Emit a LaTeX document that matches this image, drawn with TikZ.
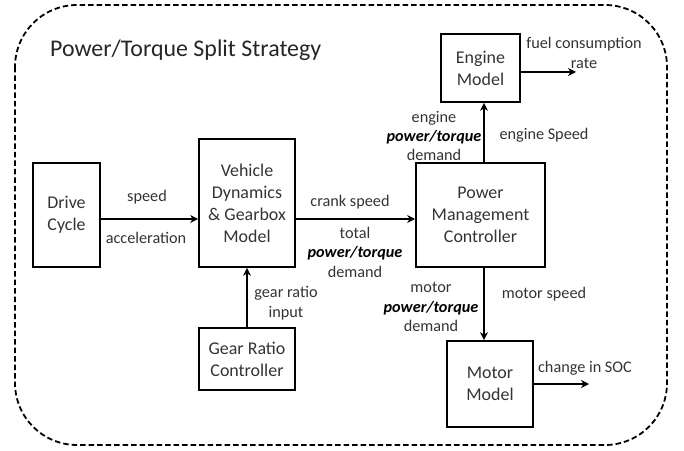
\documentclass[tikz,border=0pt]{standalone}
\usepackage{fontspec}
\setmainfont{Carlito}
\usetikzlibrary{arrows.meta,calc}
\newcommand{\ptq}{{\bfseries\itshape\color{black}power/torque}}

\begin{document}
\begin{tikzpicture}[x=1bp, y=-1bp,
    blk/.style={draw, line width=1.7bp, inner sep=0pt, align=center, text=black!80, font=\fontsize{18}{22}\selectfont},
    lbl/.style={align=center, inner sep=0pt, text=black!80, font=\fontsize{16.3}{19.5}\selectfont},
    flow/.style={line width=1.7bp, -{Stealth[length=8bp, width=8bp, inset=2.5bp]}}]

                    \useasboundingbox (0,0) rectangle (684,451);
                    \draw[line width=1.8bp, dash pattern=on 5.5bp off 3bp, rounded corners=62bp] (15,5) rectangle (667,445);
                    \node[anchor=base west, inner sep=0pt, text=black!85, font=\fontsize{24}{28}\selectfont] (title) at (50,57) {Power/Torque Split Strategy};

                    \node[blk, minimum width=67bp, minimum height=104bp] (drive) at (66.5,215) {Drive\\Cycle};
                    \node[blk, minimum width=96bp, minimum height=128bp] (veh) at (247,203) {Vehicle\\Dynamics\\\& Gearbox\\Model};
                    \node[blk, minimum width=96bp, minimum height=62bp] (gear) at (247,359) {Gear Ratio\\Controller};
                    \node[blk, minimum width=129bp, minimum height=104bp] (pmc) at (480.5,215) {Power\\Management\\Controller};
                    \node[blk, minimum width=79bp, minimum height=68bp] (engine) at (480.5,68) {Engine\\Model};
                    \node[blk, minimum width=86bp, minimum height=86bp] (motor) at (490,384) {Motor\\Model};
                    \coordinate (fuelout) at (576,72);
                    \coordinate (socout) at (589,384);

                    \draw[flow] ([yshift=-4bp]drive.east) -- ([yshift=-4bp]drive.east -| veh.west);
                    \draw[flow] ([yshift=-4bp]pmc.west -| veh.east) -- ([yshift=-4bp]pmc.west);
                    \draw[flow] (gear.north) -- (veh.south);
                    \draw[flow] ([xshift=3.5bp]pmc.north) -- ([xshift=3.5bp]pmc.north |- engine.south);
                    \draw[flow] ([xshift=3.5bp]pmc.south) -- ([xshift=3.5bp]pmc.south |- motor.north);
                    \draw[flow] (engine.east |- fuelout) -- (fuelout);
                    \draw[flow] (motor.east) -- (socout);

                    \node[lbl] (speed) at (147,197) {speed};
                    \node[lbl] (accel) at (146,238) {acceleration};
                    \node[lbl] (crank) at (350,202) {crank speed};
                    \node[lbl] (total) at (355,252) {total\\\ptq\\demand};
                    \node[lbl] (ratio) at (286,303) {gear ratio\\input};
                    \node[lbl] (engdem) at (434,136) {engine\\\ptq\\demand};
                    \node[lbl] (engspd) at (544,135) {engine Speed};
                    \node[lbl] (fuel) at (584,53) {fuel consumption\\rate};
                    \node[lbl] (motdem) at (431,307) {motor\\\ptq\\demand};
                    \node[lbl] (motspd) at (544,294) {motor speed};
                    \node[lbl] (soc) at (585,368) {change in SOC};

                \end{tikzpicture}
\end{document}
